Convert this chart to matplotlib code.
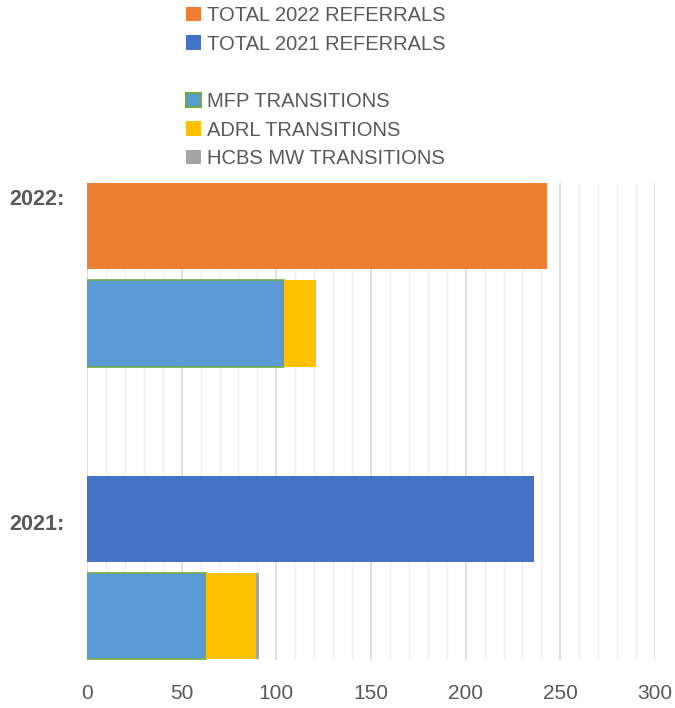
import numpy as np
import matplotlib
matplotlib.use('Agg')
import matplotlib.pyplot as plt
from matplotlib.patches import Patch
from matplotlib.ticker import MultipleLocator

plt.rcParams['font.family'] = ['Liberation Sans Narrow', 'Liberation Sans', 'DejaVu Sans']

# data
years = ['2021:', '2022:']
total_referrals = [236, 243]
mfp_transitions = [63, 104]
adrl_transitions = [26, 17]
hcbs_transitions = [2, 0]

total_labels = ['TOTAL 2021 REFERRALS', 'TOTAL 2022 REFERRALS']
total_colors = ['#4472C4', '#ED7D31']
mfp_color = '#5B9BD5'
adrl_color = '#FFC000'
hcbs_color = '#A5A5A5'
text_color = '#595959'

fig = plt.figure(figsize=(6.75, 7.08), dpi=100)
ax = fig.add_axes([87/675, 1 - 660/708, (655 - 87)/675, (660 - 183)/708])

y = np.arange(len(years))
bar_h = 0.296
off = 0.166

ax.barh(y + off, total_referrals, height=bar_h, color=total_colors, zorder=3)

mfp = np.array(mfp_transitions)
adrl = np.array(adrl_transitions)
hcbs = np.array(hcbs_transitions)
ax.barh(y - off, mfp, height=bar_h, color=mfp_color, edgecolor='#70AD47',
        linewidth=1.2, zorder=3)
ax.barh(y - off, adrl, left=mfp, height=bar_h, color=adrl_color, zorder=3)
ax.barh(y - off, hcbs, left=mfp + adrl, height=bar_h, color=hcbs_color, zorder=3)

ax.set_xlim(0, 300)
ax.set_ylim(-0.316, 1.313)
ax.xaxis.set_major_locator(MultipleLocator(50))
ax.xaxis.set_minor_locator(MultipleLocator(10))
ax.grid(which='major', axis='x', color='#D9D9D9', linewidth=1.2, zorder=0)
ax.grid(which='minor', axis='x', color='#EFEFEF', linewidth=1.0, zorder=0)
for s in ax.spines.values():
    s.set_visible(False)
ax.tick_params(axis='x', which='both', length=0, pad=17, labelsize=15,
               labelcolor=text_color)

# category labels sit a bit off the bar centres in the original
ax.set_yticks([0.156, 1.265])
ax.set_yticklabels(years, fontweight='bold')
ax.tick_params(axis='y', length=0, pad=16, labelsize=15.5, labelcolor=text_color)

handles = [Patch(facecolor=total_colors[1]), Patch(facecolor=total_colors[0]),
           Patch(visible=False),
           Patch(facecolor=mfp_color, edgecolor='#70AD47', linewidth=1.5),
           Patch(facecolor=adrl_color), Patch(facecolor=hcbs_color)]
labels = [total_labels[1], total_labels[0], '',
          'MFP TRANSITIONS', 'ADRL TRANSITIONS', 'HCBS MW TRANSITIONS']
fig.legend(handles, labels, loc='upper left', bbox_to_anchor=(186/675, 1 - 6/708),
           frameon=False, fontsize=14.5, handlelength=0.72, handleheight=0.72,
           handletextpad=0.3, labelspacing=0.48, borderpad=0, borderaxespad=0,
           labelcolor=text_color)

fig.savefig('out.png', dpi=100)
